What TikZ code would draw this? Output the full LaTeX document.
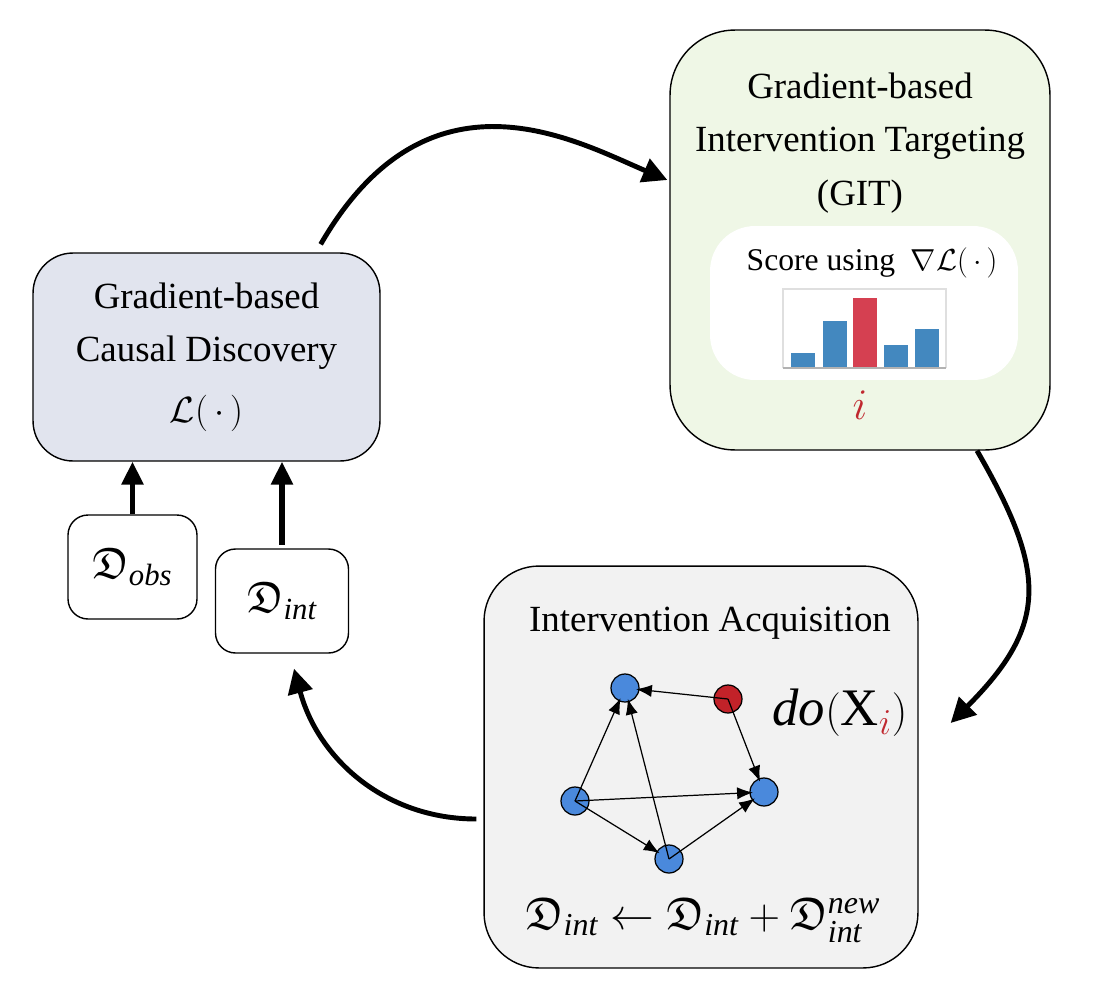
\documentclass[tikz,border=0pt]{standalone}
\usepackage{amsmath,amssymb}
\usepackage{fontspec}
\setmainfont{Liberation Serif}
\usetikzlibrary{arrows.meta,positioning}

\definecolor{cdfill}{HTML}{E1E4EE}
\definecolor{gitfill}{HTML}{EFF7E6}
\definecolor{acqfill}{HTML}{F2F2F2}
\definecolor{barblue}{HTML}{4388BF}
\definecolor{barred}{HTML}{D54051}
\definecolor{varblue}{HTML}{4A89DC}
\definecolor{varred}{HTML}{C22229}
\definecolor{idxred}{HTML}{C0282F}

\tikzset{
  stage/.style={draw, line width=0.8pt, align=center},
  caption/.style={font=\fontsize{21}{30.5}\selectfont, align=center},
  databox/.style={draw, line width=0.8pt, rounded corners=0.4cm, minimum height=2.08cm,
    font=\fontsize{25}{28}\selectfont},
  flow/.style={line width=2.8pt, -{Triangle[length=14pt,width=14pt]}},
  feed/.style={line width=3pt, -{Triangle[length=13pt,width=12pt]}},
  var/.style={circle, draw, line width=0.7pt, fill=varblue, minimum size=0.56cm, inner sep=0pt},
  edge/.style={line width=0.7pt, shorten >=-2pt, -{Latex[length=9pt,width=7pt]}},
}

\begin{document}
\begin{tikzpicture}[x=0.02cm, y=0.02cm]
\useasboundingbox (0,0) rectangle (1106,-998);

% causal discovery
\node[stage, caption, fill=cdfill, rounded corners=0.8cm, minimum width=6.94cm, minimum height=4.16cm] (cd)
  at (206.5,-357) {Gradient-based\\Causal Discovery\\[4pt]$\mathcal{L}(\,\cdot\,)$};
\node[databox, minimum width=2.58cm] (dobs) at (132.5,-567) {$\mathfrak{D}_{\mathit{obs}}$};
\node[databox, minimum width=2.66cm] (dint) at (282,-601) {$\mathfrak{D}_{\mathit{int}}$};
\draw[feed] (dobs.north) -- (dobs.north |- cd.south);
\draw[feed] ([yshift=2pt]dint.north) -- (dint.north |- cd.south);

% GIT
\node[stage, fill=gitfill, rounded corners=1.3cm, minimum width=7.6cm, minimum height=8.4cm] (git) at (860,-240) {};
\node[caption] (gittitle) at (860,-143) {Gradient-based\\Intervention Targeting\\(GIT)};
\node[fill=white, rounded corners=0.9cm, minimum width=6.16cm, minimum height=3.08cm] (score) at (864,-303) {};
\node[font=\fontsize{18}{21}\selectfont] (scoretxt) at (872,-263) {Score using\enspace$\nabla\mathcal{L}(\,\cdot\,)$};
\draw[gray!25, line width=0.6pt] (783,-368) -- (783,-289) -- (946,-289) -- (946,-368);
\foreach \x/\top/\col in {791/353/barblue, 823/321/barblue, 853/298/barred, 884/345/barblue, 915/329/barblue}
  \fill[\col] (\x,-368) rectangle (\x+24,-\top);
\draw[gray!60, line width=0.8pt] (783,-368) -- (946,-368);
\node[text=idxred, font=\fontsize{30}{30}\selectfont] (target) at (860,-405) {$i$};

% acquisition
\node[stage, fill=acqfill, rounded corners=1.1cm, minimum width=8.68cm, minimum height=8.04cm] (acq) at (701,-767) {};
\node[caption] (acqtitle) at (710,-623) {Intervention Acquisition};
\node[var] (xa) at (625,-688) {};
\node[var, fill=varred] (xr) at (728,-699) {};
\node[var] (xl) at (575,-801) {};
\node[var] (xt) at (764,-792) {};
\node[var] (xb) at (669,-859) {};
\foreach \s/\t in {xr/xa, xr/xt, xl/xa, xl/xt, xl/xb, xb/xa, xb/xt}
  \draw[edge] (\s.center) -- (\t);
\node[font=\fontsize{30}{30}\selectfont] (doop) at (840,-713) {$\mathit{do}(\mathrm{X}_{\textcolor{idxred}{i}})$};
\node[font=\fontsize{26}{30}\selectfont] (update) at (703,-920)
  {$\mathfrak{D}_{\mathit{int}} \leftarrow \mathfrak{D}_{\mathit{int}} + \mathfrak{D}_{\mathit{int}}^{\mathit{new}}$};

% loop
\draw[flow] ([shift={(-60,8)}]cd.north east) to[out=60, in=157, out distance=4.3cm, in distance=2cm]
  ([shift={(-2,60)}]git.west);
\draw[flow] ([shift={(117,0)}]git.south) to[out=-60, in=45, looseness=1.3] ([shift={(32,44)}]acq.east);
\draw[flow] ([shift={(-7,-52)}]acq.west) to[out=180, in=-75, looseness=1.0] ([shift={(12,-15)}]dint.south);
\end{tikzpicture}
\end{document}
